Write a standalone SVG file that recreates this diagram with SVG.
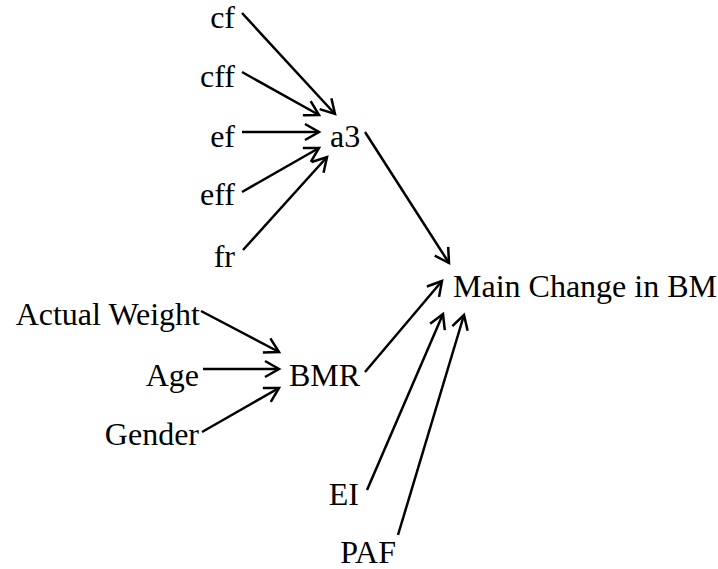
<svg xmlns="http://www.w3.org/2000/svg" width="718" height="569" viewBox="0 0 718 569">
  <style>
    .r { text-anchor: end; }
    .edge { stroke: #000; stroke-width: 2.5; fill: none; marker-end: url(#head); }
  </style>
  <defs>
    <marker id="head" markerUnits="userSpaceOnUse" markerWidth="40" markerHeight="40" refX="0" refY="0" viewBox="-20 -20 40 40" orient="auto" overflow="visible">
      <path d="M-14,-8 L0,0 L-14,8" fill="none" stroke="#000" stroke-width="2.5" stroke-linejoin="miter"/>
    </marker>
  </defs>

  <g id="connectors">
    <line class="edge" x1="242" y1="13" x2="335" y2="114"/>
    <line class="edge" x1="242" y1="72" x2="319" y2="115"/>
    <line class="edge" x1="242" y1="132" x2="319" y2="132"/>
    <line class="edge" x1="242" y1="192" x2="319" y2="148"/>
    <line class="edge" x1="243" y1="250" x2="327" y2="157"/>
    <line class="edge" x1="365" y1="132" x2="449" y2="263"/>
    <line class="edge" x1="201" y1="311" x2="279" y2="352"/>
    <line class="edge" x1="203" y1="369" x2="279" y2="369"/>
    <line class="edge" x1="202" y1="432" x2="279" y2="388"/>
    <line class="edge" x1="365" y1="372" x2="442" y2="281"/>
    <line class="edge" x1="367" y1="490" x2="443" y2="314"/>
    <line class="edge" x1="398" y1="535" x2="464" y2="315"/>
  </g>

  <g font-family="Liberation Serif" font-size="32" fill="#000">
    <g id="node-cf"><text class="r" x="235" y="28">cf</text></g>
    <g id="node-cff"><text class="r" x="235" y="87">cff</text></g>
    <g id="node-ef"><text class="r" x="235" y="147">ef</text></g>
    <g id="node-eff"><text class="r" x="235" y="205">eff</text></g>
    <g id="node-fr"><text class="r" x="235" y="267">fr</text></g>
    <g id="node-a3"><text x="330" y="147">a3</text></g>
    <g id="node-main"><text x="453" y="297">Main Change in BM</text></g>
    <g id="node-weight"><text class="r" x="200" y="325">Actual Weight</text></g>
    <g id="node-age"><text class="r" x="199" y="386">Age</text></g>
    <g id="node-gender"><text class="r" x="199" y="445">Gender</text></g>
    <g id="node-bmr"><text x="289" y="386">BMR</text></g>
    <g id="node-ei"><text class="r" x="359" y="505">EI</text></g>
    <g id="node-paf"><text class="r" x="396" y="563">PAF</text></g>
  </g>
</svg>
